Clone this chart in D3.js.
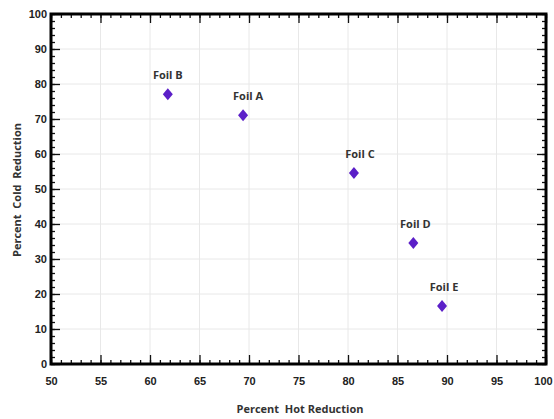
<!DOCTYPE html>
<html><head><meta charset="utf-8">
<script src="https://cdn.jsdelivr.net/npm/d3@7"></script>
<style>body{margin:0;background:#fff}</style></head>
<body><svg id="c" width="554" height="419"></svg>
<script>
const labels = ["Foil B","Foil A","Foil C","Foil D","Foil E"];
const hotReduction = [61.8, 69.4, 80.6, 86.6, 89.5];
const coldReduction = [77.1, 71.1, 54.6, 34.6, 16.6];
const xTicks = [50,55,60,65,70,75,80,85,90,95,100];
const yTicks = [0,10,20,30,40,50,60,70,80,90,100];

const svg = d3.select("#c");
const L=51,R=546,T=14,B=364;
const x = d3.scaleLinear().domain([50,100]).range([L,R]);
const y = d3.scaleLinear().domain([0,100]).range([B,T]);

// grid
svg.append("g").selectAll("line").data(xTicks.slice(1,-1)).join("line")
  .attr("x1",d=>x(d)).attr("x2",d=>x(d)).attr("y1",T).attr("y2",B)
  .attr("stroke","#e8e8e8").attr("stroke-width",1);
svg.append("g").selectAll("line").data(yTicks.slice(1,-1)).join("line")
  .attr("y1",d=>y(d)).attr("y2",d=>y(d)).attr("x1",L).attr("x2",R)
  .attr("stroke","#e8e8e8").attr("stroke-width",1);

const fnt = "'Liberation Sans Narrow','Arial Narrow',sans-serif";
function styleAxis(g){
  g.select(".domain").remove();
  g.selectAll("line").attr("stroke","#111").attr("stroke-width",1.3);
  g.selectAll("text").attr("font-family",fnt).attr("font-size",11).attr("font-weight","bold").attr("fill","#222");
}
const xMinor = d3.range(50,101,1), yMinor = d3.range(0,101,2);
// bottom
svg.append("g").attr("transform",`translate(0,${B})`)
  .call(d3.axisBottom(x).tickValues(xMinor).tickSize(-4).tickFormat(""))
  .call(styleAxis);
const xb = svg.append("g").attr("transform",`translate(0,${B})`)
  .call(d3.axisBottom(x).tickValues(xTicks).tickSize(-9).tickPadding(13).tickFormat(d3.format("d")))
  .call(styleAxis);
xb.selectAll(".tick").filter(d=>d===100).select("text").attr("dx",-3);
// top
svg.append("g").attr("transform",`translate(0,${T})`)
  .call(d3.axisTop(x).tickValues(xMinor).tickSize(-4).tickFormat("")).call(styleAxis);
svg.append("g").attr("transform",`translate(0,${T})`)
  .call(d3.axisTop(x).tickValues(xTicks).tickSize(-9).tickFormat("")).call(styleAxis);
// left
svg.append("g").attr("transform",`translate(${L},0)`)
  .call(d3.axisLeft(y).tickValues(yMinor).tickSize(-4).tickFormat("")).call(styleAxis);
svg.append("g").attr("transform",`translate(${L},0)`)
  .call(d3.axisLeft(y).tickValues(yTicks).tickSize(-9).tickPadding(4).tickFormat(d3.format("d")))
  .call(styleAxis);
// right
svg.append("g").attr("transform",`translate(${R},0)`)
  .call(d3.axisRight(y).tickValues(yMinor).tickSize(-4).tickFormat("")).call(styleAxis);
svg.append("g").attr("transform",`translate(${R},0)`)
  .call(d3.axisRight(y).tickValues(yTicks).tickSize(-9).tickFormat("")).call(styleAxis);

// frame
svg.append("rect").attr("x",L).attr("y",T).attr("width",R-L).attr("height",B-T)
  .attr("fill","none").attr("stroke","#000").attr("stroke-width",3);

// points
const data = labels.map((l,i)=>({l,h:hotReduction[i],c:coldReduction[i]}));
svg.append("g").selectAll("path").data(data).join("path")
  .attr("transform",d=>`translate(${x(d.h)},${y(d.c)})`)
  .attr("d","M0,-6L5,0L0,6L-5,0Z").attr("fill","#5b1fc8");
svg.append("g").selectAll("text").data(data).join("text")
  .attr("x",(d,i)=>x(d.h)+[0,5,6,2,2][i]).attr("y",d=>y(d.c)-15)
  .attr("text-anchor","middle").attr("font-family","'Open Sans',sans-serif")
  .attr("font-weight","bold").attr("font-size",11).attr("fill","#333").text(d=>d.l);

// titles
svg.append("text").attr("x",300).attr("y",413).attr("text-anchor","middle")
  .attr("font-family","'Open Sans',sans-serif").attr("font-weight","bold").attr("font-size",11)
  .attr("fill","#333").attr("xml:space","preserve").text("Percent  Hot Reduction");
svg.append("text").attr("transform","translate(21,190) rotate(-90)").attr("text-anchor","middle")
  .attr("font-family","'Open Sans',sans-serif").attr("font-weight","bold").attr("font-size",11)
  .attr("fill","#333").attr("xml:space","preserve").text("Percent  Cold  Reduction");
</script></body></html>
